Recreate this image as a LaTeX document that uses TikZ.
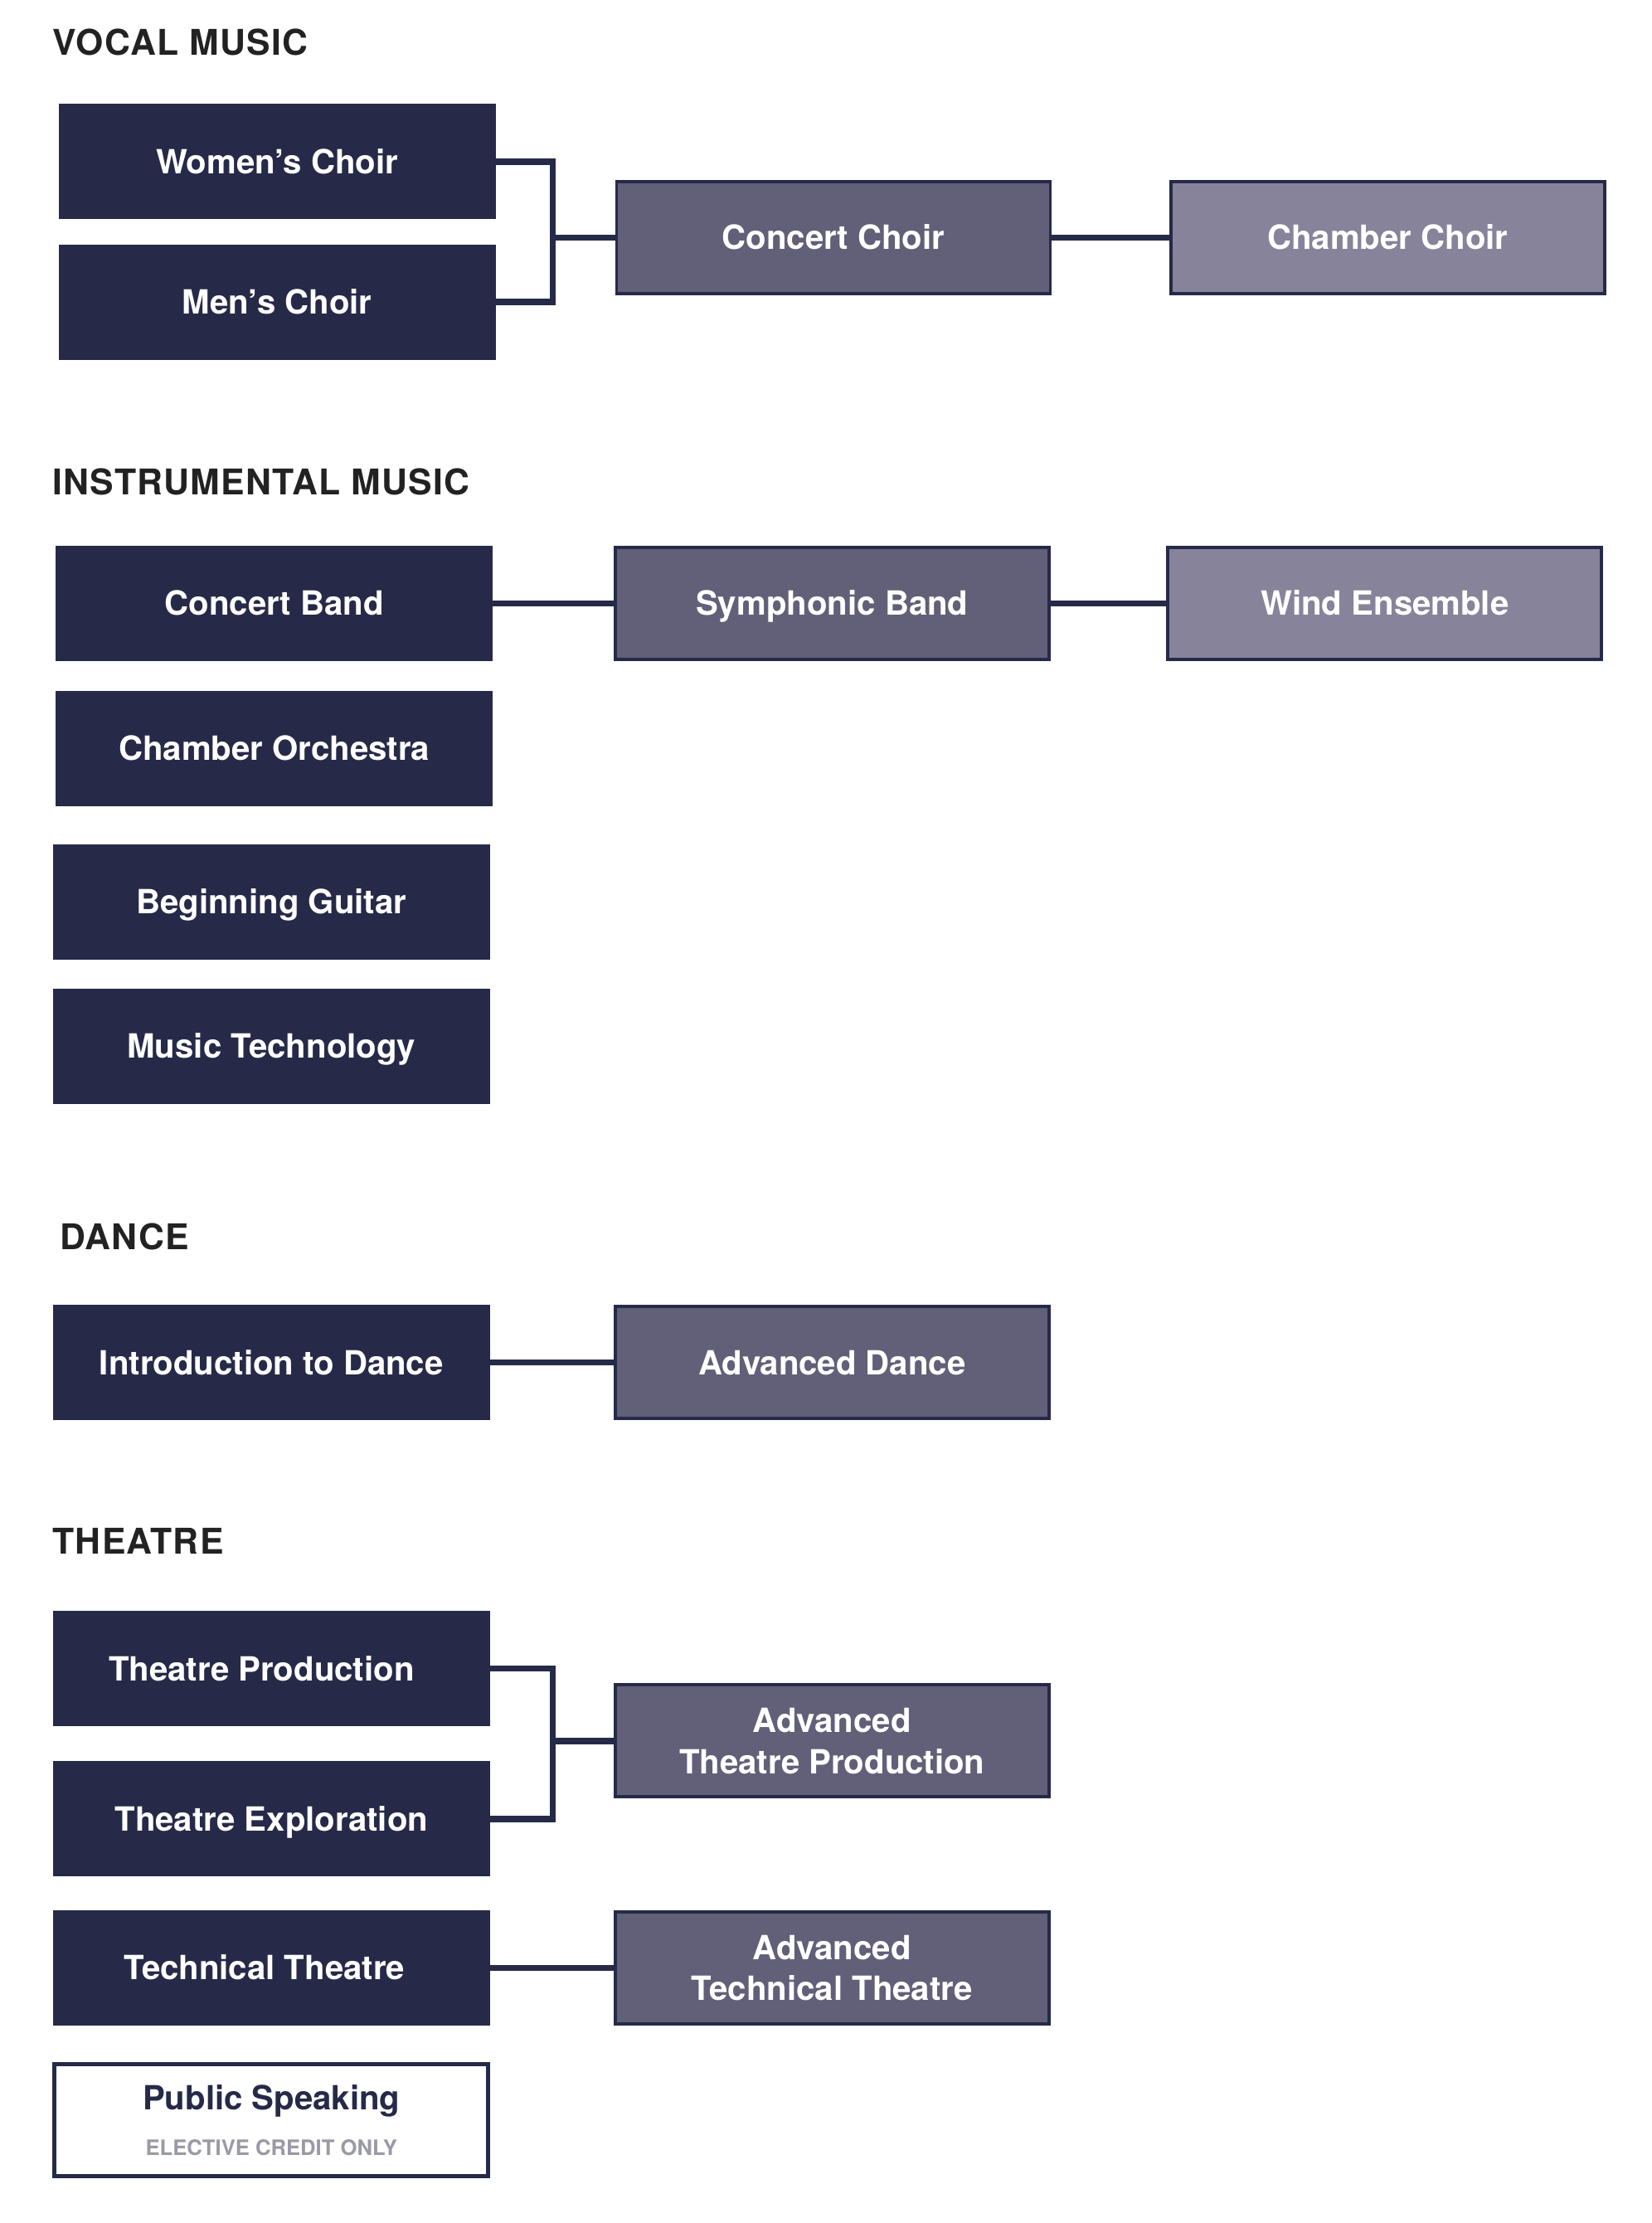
\documentclass[tikz,border=0pt]{standalone}
\usepackage{fontspec}
\setmainfont{TeX Gyre Heros}
\definecolor{navy}{HTML}{262A48}
\definecolor{dusk}{HTML}{625F78}
\definecolor{haze}{HTML}{86839A}
\definecolor{ink}{HTML}{222222}
\definecolor{note}{HTML}{9A9AA6}
\begin{document}
\begin{tikzpicture}[x=1pt,y=-1pt,
  course/.style={rectangle,draw=navy,line width=2.3pt,minimum width=306pt,minimum height=79pt,inner sep=0pt,text=white,align=center,font=\fontsize{23.5}{29}\selectfont\bfseries},
  one/.style={text height=17pt,text depth=0pt},
  base/.style={course,one,fill=navy},
  next/.style={course,fill=dusk},
  top/.style={course,one,fill=haze},
  head/.style={anchor=west,inner sep=0pt,text=ink,font=\fontsize{25}{30}\selectfont\bfseries\addfontfeatures{LetterSpace=3}},
  link/.style={draw=navy,line width=4.3pt,line join=miter}]
\useasboundingbox (0,0) rectangle (1165,1568);
%vocal
\node[head] (hv) at (37,30) {VOCAL MUSIC};
\node[base] (wc) at (195.5,114) {Women’s Choir};
\node[base] (mc) at (195.5,213) {Men’s Choir};
\node[next,one] (cc) at (588,167.5) {Concert Choir};
\node[top] (chc) at (979,167.5) {Chamber Choir};
\coordinate (vj) at (390,167.5);
\draw[link] (wc.east) -| (vj) |- (mc.east) (vj)--(cc.west) (cc.east)--(chc.west);
%instrumental
\node[head] (hi) at (37,340) {INSTRUMENTAL MUSIC};
\node[base] (cb) at (193.5,425.5) {Concert Band};
\node[next,one] (sb) at (587,425.5) {Symphonic Band};
\node[top] (we) at (977,425.5) {Wind Ensemble};
\node[base] (co) at (193.5,528) {Chamber Orchestra};
\node[base] (bg) at (191.5,636) {Beginning Guitar};
\node[base] (mt) at (191.5,738) {Music Technology};
\draw[link] (cb.east)--(sb.west) (sb.east)--(we.west);
%dance
\node[head] (hd) at (42,872) {DANCE};
\node[base] (id) at (191.5,961) {Introduction to Dance};
\node[next,one] (ad) at (587,961) {Advanced Dance};
\draw[link] (id.east)--(ad.west);
%theatre
\node[head] (ht) at (37,1087) {THEATRE};
\node[base] (tp) at (191.5,1177) {\hspace*{-14pt}Theatre Production};
\node[base] (te) at (191.5,1283) {Theatre Exploration};
\node[next] (atp) at (587,1228) {Advanced\\Theatre Production};
\coordinate (tj) at (390,1228);
\draw[link] (tp.east) -| (tj) |- (te.east) (tj)--(atp.west);
\node[base] (tt) at (191.5,1388) {\hspace*{-10pt}Technical Theatre};
\node[next] (att) at (587,1388) {Advanced\\Technical Theatre};
\draw[link] (tt.east)--(att.west);
\node[course,fill=white,text=navy,line width=2.8pt] (ps) at (191.5,1495.5) {Public Speaking\\[3pt]{\fontsize{15}{18}\selectfont\color{note}ELECTIVE CREDIT ONLY}};
\end{tikzpicture}
\end{document}
